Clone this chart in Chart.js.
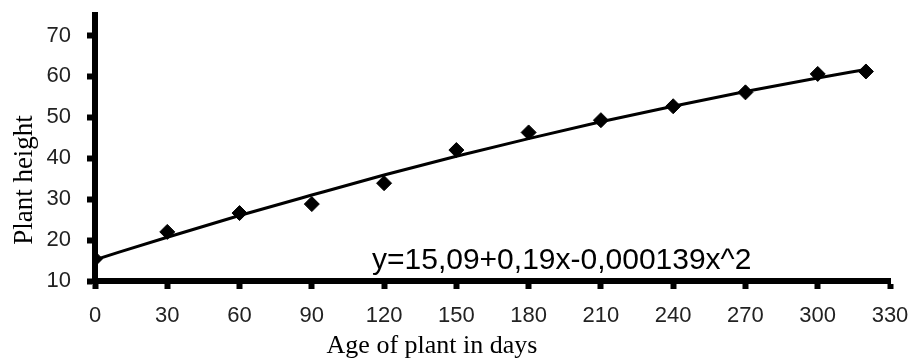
<!DOCTYPE html>
<html>
<head>
<meta charset="utf-8">
<script src="https://cdn.jsdelivr.net/npm/chart.js@4.4.1/dist/chart.umd.min.js"></script>
<style>
    html, body { margin: 0; padding: 0; background: #ffffff; }
    #wrap { width: 909px; height: 358px; position: relative; }
</style>
</head>
<body>
<div id="wrap"><canvas id="plantChart"></canvas></div>
<script>
// Measured plant heights
const ageDays = [0, 30, 60, 90, 120, 150, 180, 210, 240, 270, 300, 320];
const heights = [15.4, 22.0, 26.6, 28.8, 33.9, 42.0, 46.3, 49.3, 52.7, 56.1, 60.6, 61.2];

// Fitted curve
const fitDays = [0, 30, 60, 90, 120, 150, 180, 210, 240, 270, 300, 320];
const fitHeights = [15.2, 20.7, 26.0, 31.0, 35.9, 40.5, 44.8, 48.9, 52.7, 56.3, 59.6, 61.7];

// Axis ticks
const xTicks = [0, 30, 60, 90, 120, 150, 180, 210, 240, 270, 300, 330];
const yTicks = [10, 20, 30, 40, 50, 60, 70];

const equationText = "y=15,09+0,19x-0,000139x^2";
const xTitle = "Age of plant in days";
const yTitle = "Plant height";

const toPoints = (xs, ys) => xs.map((x, i) => ({ x: x, y: ys[i] }));

// Axis titles and the equation label
const textPlugin = {
    id: 'textPlugin',
    afterDraw(chart) {
        const ctx = chart.ctx;
        const area = chart.chartArea;
        ctx.save();
        ctx.fillStyle = '#000';

        // equation
        ctx.font = '30px "Liberation Sans", Arial, sans-serif';
        ctx.textAlign = 'left';
        ctx.textBaseline = 'alphabetic';
        ctx.fillText(equationText, 372, area.bottom - 12);

        // x title
        ctx.font = '26px "Liberation Serif", "Times New Roman", serif';
        ctx.textAlign = 'center';
        ctx.fillText(xTitle, 432, 353);

        // y title
        ctx.translate(32, 180);
        ctx.rotate(-Math.PI / 2);
        ctx.font = '27px "Liberation Serif", "Times New Roman", serif';
        ctx.fillText(yTitle, 0, 0);
        ctx.restore();
    }
};

const ctx = document.getElementById('plantChart').getContext('2d');

new Chart(ctx, {
    type: 'scatter',
    data: {
        datasets: [
            {
                label: 'Fit',
                data: toPoints(fitDays, fitHeights),
                showLine: true,
                borderColor: '#000',
                borderWidth: 3,
                pointRadius: 0,
                cubicInterpolationMode: 'monotone',
                fill: false
            },
            {
                label: 'Plant height',
                data: toPoints(ageDays, heights),
                pointStyle: 'rectRot',
                pointRadius: 7.5,
                backgroundColor: '#000',
                borderColor: '#000',
                borderWidth: 1
            }
        ]
    },
    plugins: [textPlugin],
    options: {
        responsive: true,
        maintainAspectRatio: false,
        animation: false,
        layout: { padding: { top: 15, right: 0, left: 0, bottom: 0 } },
        plugins: {
            legend: { display: false },
            tooltip: { enabled: false }
        },
        scales: {
            x: {
                type: 'linear',
                min: 0,
                max: 330,
                afterBuildTicks: (scale) => { scale.ticks = xTicks.map(v => ({ value: v })); },
                afterFit: (scale) => {
                    scale.height = 77;
                    scale.paddingLeft = 0;
                    scale.paddingRight = 19;
                },
                grid: {
                    drawOnChartArea: false,
                    drawTicks: true,
                    tickLength: 8,
                    tickWidth: 6,
                    tickColor: '#000'
                },
                border: { display: true, color: '#000', width: 6 },
                ticks: {
                    padding: 14,
                    color: '#222',
                    font: { family: '"Liberation Sans", Arial, sans-serif', size: 22 },
                    maxRotation: 0
                }
            },
            y: {
                type: 'linear',
                min: 10,
                max: 75,
                afterBuildTicks: (scale) => { scale.ticks = yTicks.map(v => ({ value: v })); },
                afterFit: (scale) => {
                    scale.width = 95;
                    scale.paddingTop = 0;
                    scale.paddingBottom = 0;
                },
                grid: {
                    drawOnChartArea: false,
                    drawTicks: true,
                    tickLength: 8,
                    tickWidth: 6,
                    tickColor: '#000'
                },
                border: { display: true, color: '#000', width: 6 },
                ticks: {
                    padding: 16,
                    color: '#222',
                    font: { family: '"Liberation Sans", Arial, sans-serif', size: 22 }
                }
            }
        }
    }
});
</script>
</body>
</html>
